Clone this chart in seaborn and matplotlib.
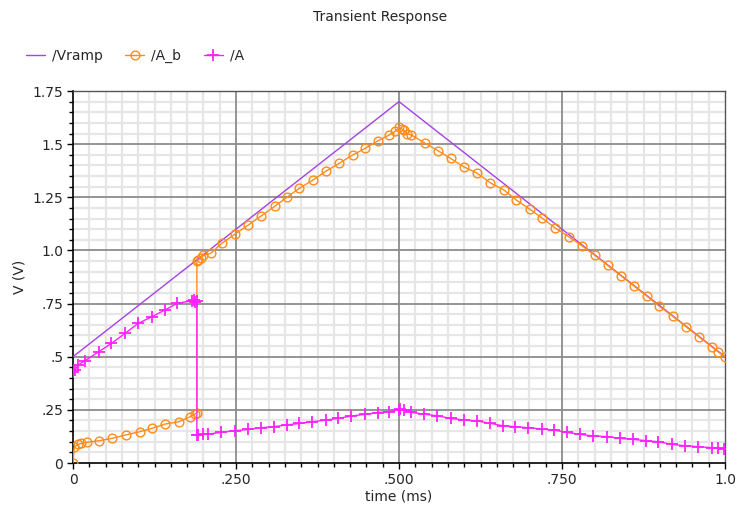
import numpy as np
import pandas as pd
import matplotlib
matplotlib.use("Agg")
import matplotlib.pyplot as plt
from matplotlib.ticker import MultipleLocator, FixedLocator, FixedFormatter
import seaborn as sns

# ---- data ----
vramp_t = [0.0, 0.5, 1.0]
vramp_v = [0.5, 1.7, 0.5]

ab_t = [0.0, 0.002, 0.008, 0.013, 0.021, 0.040, 0.060, 0.081, 0.102, 0.121, 0.141,
        0.162, 0.180, 0.187, 0.190,
        0.190, 0.192, 0.196, 0.200, 0.211, 0.228, 0.2485, 0.269, 0.289, 0.310, 0.328,
        0.347, 0.368, 0.388, 0.408, 0.429, 0.448, 0.468, 0.485, 0.494, 0.5005,
        0.504, 0.507, 0.512, 0.519, 0.540, 0.560, 0.579, 0.599, 0.620, 0.640, 0.661,
        0.680, 0.701, 0.720, 0.739, 0.760, 0.781, 0.800, 0.820, 0.840, 0.860, 0.880,
        0.899, 0.920, 0.940, 0.960, 0.980, 0.990, 1.0]
ab_v = [0.0, 0.077, 0.088, 0.092, 0.097, 0.105, 0.116, 0.132, 0.147, 0.163, 0.183,
        0.194, 0.218, 0.230, 0.237,
        0.950, 0.955, 0.965, 0.978, 0.986, 1.033, 1.077, 1.120, 1.163, 1.209, 1.250,
        1.292, 1.331, 1.373, 1.409, 1.449, 1.480, 1.516, 1.543, 1.560, 1.579,
        1.572, 1.566, 1.550, 1.543, 1.504, 1.469, 1.433, 1.394, 1.363, 1.318, 1.284,
        1.237, 1.193, 1.151, 1.107, 1.065, 1.021, 0.978, 0.930, 0.882, 0.834, 0.786,
        0.738, 0.690, 0.642, 0.594, 0.546, 0.522, 0.500]

a_t = [0.0, 0.003, 0.008, 0.018, 0.040, 0.059, 0.080, 0.100, 0.121, 0.141, 0.160,
       0.182, 0.185, 0.187, 0.190,
       0.190, 0.192, 0.200, 0.2075, 0.2265, 0.2485, 0.269, 0.288, 0.308, 0.328, 0.347,
       0.367, 0.388, 0.407, 0.427, 0.448, 0.468, 0.485, 0.4995, 0.5015, 0.507, 0.519,
       0.538, 0.559, 0.579, 0.600, 0.619, 0.640, 0.659, 0.678, 0.698, 0.719, 0.738,
       0.757, 0.778, 0.798, 0.819, 0.839, 0.859, 0.879, 0.898, 0.918, 0.939, 0.959,
       0.980, 0.990, 0.998]
a_v = [0.428, 0.437, 0.461, 0.481, 0.524, 0.563, 0.610, 0.657, 0.688, 0.720, 0.751,
       0.763, 0.768, 0.759, 0.760,
       0.132, 0.132, 0.135, 0.136, 0.144, 0.152, 0.158, 0.166, 0.171, 0.179, 0.186,
       0.194, 0.202, 0.210, 0.221, 0.229, 0.237, 0.241, 0.250, 0.252, 0.249, 0.238,
       0.230, 0.222, 0.210, 0.202, 0.198, 0.187, 0.175, 0.171, 0.166, 0.160, 0.155,
       0.144, 0.135, 0.127, 0.124, 0.116, 0.111, 0.105, 0.100, 0.088, 0.081, 0.077,
       0.072, 0.069, 0.066]

xtick_vals = [0, 0.25, 0.5, 0.75, 1.0]
xtick_labels = ["0", ".250", ".500", ".750", "1.0"]
ytick_vals = [0, 0.25, 0.5, 0.75, 1.0, 1.25, 1.5, 1.75]
ytick_labels = ["0", ".25", ".5", ".75", "1.0", "1.25", "1.5", "1.75"]

C_VRAMP = "#a442e6"
C_AB = "#ff8c1a"
C_A = "#ff22ff"

sns.set_theme(style="white")
plt.rcParams['font.family'] = ['DejaVu Sans']

fig = plt.figure(figsize=(7.37, 5.11), dpi=100)
ax = fig.add_axes([73/737, 1 - 463/511, (725-73)/737, (463-91)/511])

df_vr = pd.DataFrame({"t": vramp_t, "v": vramp_v})
df_ab = pd.DataFrame({"t": ab_t, "v": ab_v})
df_a = pd.DataFrame({"t": a_t, "v": a_v})

sns.lineplot(data=df_vr, x="t", y="v", ax=ax, color=C_VRAMP, lw=1.0,
             estimator=None, sort=False, label="/Vramp", zorder=3)
sns.lineplot(data=df_ab, x="t", y="v", ax=ax, color=C_AB, lw=1.0,
             estimator=None, sort=False, marker="o", markersize=6.3,
             markerfacecolor="none", markeredgecolor=C_AB, markeredgewidth=1.0,
             label="/A_b", zorder=4)
sns.lineplot(data=df_a, x="t", y="v", ax=ax, color=C_A, lw=1.0,
             estimator=None, sort=False, marker="+", markersize=8,
             markeredgecolor=C_A, markeredgewidth=1.3,
             label="/A", zorder=5)

ax.set_xlim(0, 1.0)
ax.set_ylim(0, 1.75)
ax.xaxis.set_major_locator(FixedLocator(xtick_vals))
ax.xaxis.set_major_formatter(FixedFormatter(xtick_labels))
ax.yaxis.set_major_locator(FixedLocator(ytick_vals))
ax.yaxis.set_major_formatter(FixedFormatter(ytick_labels))
ax.xaxis.set_minor_locator(MultipleLocator(0.025))
ax.yaxis.set_minor_locator(MultipleLocator(0.05))

# minor grid from the axis, major grid drawn above it
ax.grid(which="minor", color="#e6e6e6", lw=1.6, zorder=0)
ax.grid(which="major", visible=False)
ax.set_axisbelow(True)
ax.vlines(xtick_vals[1:-1], 0, 1.75, colors="#8c8c8c", lw=1.3, zorder=1.5)
ax.hlines(ytick_vals[1:-1], 0, 1.0, colors="#8c8c8c", lw=1.3, zorder=1.5)

ax.tick_params(which="major", direction="out", length=4, width=1, color="black",
               labelsize=10, pad=3, bottom=True, left=True)
ax.tick_params(which="minor", direction="out", length=3, width=1, color="black",
               bottom=True, left=True)
for s in ["left", "bottom"]:
    ax.spines[s].set_color("black")
    ax.spines[s].set_linewidth(1.2)
for s in ["top", "right"]:
    ax.spines[s].set_color("#555555")
    ax.spines[s].set_linewidth(1.0)

ax.set_xlabel("time (ms)", fontsize=10, labelpad=2)
ax.set_ylabel("V (V)", fontsize=10, labelpad=4)

fig.text(380/737, 1 - 17/511, "Transient Response", ha="center", va="center", fontsize=10)

handles, labels = ax.get_legend_handles_labels()
if ax.legend_:
    ax.legend_.remove()
fig.legend(handles, labels, loc="center left", bbox_to_anchor=(20/737, 1 - 56/511),
           ncol=3, frameon=False, fontsize=10, handlelength=1.4, handletextpad=0.5,
           columnspacing=1.6, borderaxespad=0)

fig.savefig("out.png", dpi=100, facecolor="white")
